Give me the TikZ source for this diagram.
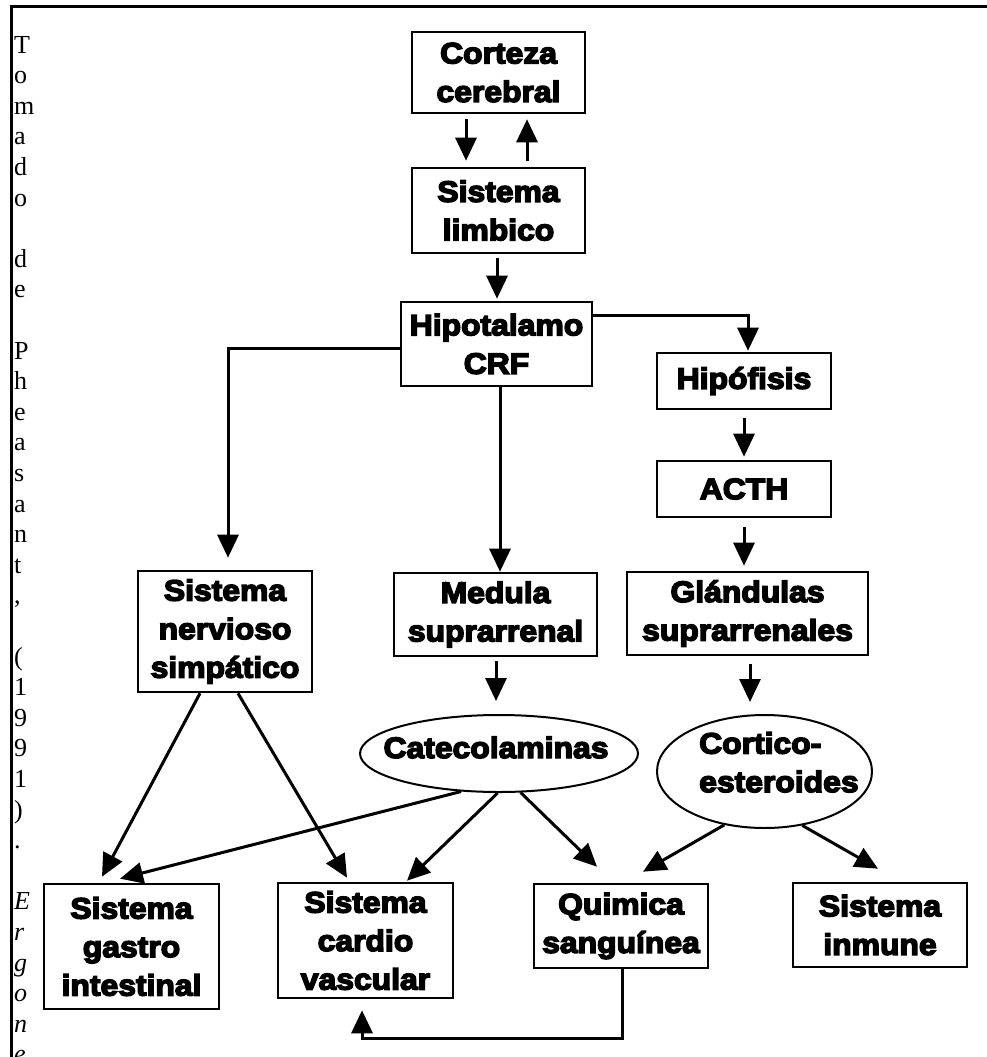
\documentclass[tikz,border=0pt]{standalone}
\usepackage{fontspec}
\setmainfont{Liberation Serif}
\newfontfamily\heavysans{Liberation Sans Bold}[FakeBold=5,FakeStretch=1.08]
\usetikzlibrary{arrows.meta,shapes.geometric}
\newcommand\boxlabelfont{\heavysans\fontsize{29.5}{38.5}\selectfont}
\newcommand\sidefont{\fontsize{26}{30}\selectfont}

\begin{document}
\begin{tikzpicture}[x=1pt,y=-1pt,
  box/.style 2 args={draw,line width=2.6pt,inner sep=0pt,minimum width=#1pt,minimum height=#2pt,align=center,font=\boxlabelfont},
  oval/.style 2 args={draw,ellipse,line width=2pt,inner sep=0pt,minimum width=#1pt,minimum height=#2pt},
  ovaltext/.style={font=\boxlabelfont,inner sep=0pt},
  arr/.style={line width=3pt,-{Triangle[width=21pt,length=23pt]}},
  sourceletter/.style={font=\sidefont,inner sep=0pt,anchor=base west}]

\useasboundingbox (0,0) rectangle (987,1057);

% outer frame (top and left edges)
\draw[line width=3pt] (11.5,1057) -- (11.5,6.5) -- (987,6.5);

% source note, one letter per line
\foreach \i/\ch in {0/T,1/o,2/m,3/a,4/d,5/o,7/d,8/e,10/P,11/h,12/e,13/a,14/s,15/a,16/n,17/t,18/{,},20/{(},21/1,22/9,23/9,24/1,25/{)},26/.}
  \node[sourceletter] (src\i) at (14,{53+30.6*\i}) {\ch};
\foreach \i/\ch in {28/E,29/r,30/g,31/o,32/n,33/e}
  \node[sourceletter,font=\sidefont\itshape] (src\i) at (14,{53+30.6*\i}) {\ch};

% boxes
\node[box={173}{81}]  (corteza)    at (498.5,72.5)  {Corteza\\cerebral};
\node[box={173}{85}]  (limbico)    at (498.5,210.5) {Sistema\\limbico};
\node[box={191}{84}]  (hipotalamo) at (496.5,344)   {Hipotalamo\\CRF};
\node[box={174}{56}]  (hipofisis)  at (744,381)     {Hip\'ofisis};
\node[box={174}{56}]  (acth)       at (744,489)     {ACTH};
\node[box={241}{83}]  (glandulas)  at (747.5,613.5) {Gl\'andulas\\suprarrenales};
\node[box={174}{121}] (nervioso)   at (225,631.5)   {Sistema\\nervioso\\simp\'atico};
\node[box={203}{83}]  (medula)     at (495.5,614.5) {Medula\\suprarrenal};
\node[box={175}{125}] (gastro)     at (131.5,946.5) {Sistema\\gastro\\intestinal};
\node[box={175}{115}] (cardio)     at (365.5,940.5) {Sistema\\cardio\\vascular};
\node[box={174}{84}]  (quimica)    at (621,926)     {Quimica\\sangu\'inea};
\node[box={174}{84}]  (inmune)     at (880,925)     {Sistema\\inmune};

% hormone ellipses
\node[oval={278}{77}]  (catecol) at (499,753.5) {};
\node[ovaltext,anchor=base] (catecoltxt) at (496,758) {Catecolaminas};
\node[oval={215}{113}] (cortico) at (764.5,771.5) {};
\node[ovaltext,align=left,anchor=north west] (corticotxt) at (699,732) {Cortico-\\esteroides};

% connectors
\draw[arr,shorten <=5pt,shorten >=6pt] ([xshift=-32.5pt]corteza.south) -- ([xshift=-32.5pt]limbico.north);
\draw[arr,shorten <=6pt,shorten >=5pt] ([xshift=28.5pt]limbico.north) -- ([xshift=28.5pt]corteza.south);
\draw[arr,shorten <=4pt,shorten >=2pt] ([xshift=-1.5pt]limbico.south) -- ([xshift=0.5pt]hipotalamo.north);
\draw[arr,shorten >=12pt] ([yshift=-4pt]hipotalamo.west) -| ([xshift=3pt]nervioso.north);
\draw[arr] ([xshift=3.5pt]hipotalamo.south) -- ([xshift=4.5pt]medula.north);
\draw[arr,shorten >=1pt] ([yshift=29pt]hipotalamo.east) -| ([xshift=4pt]hipofisis.north);
\draw[arr,shorten <=8pt,shorten >=3pt] (hipofisis.south) -- (acth.north);
\draw[arr,shorten <=9pt,shorten >=5pt] (acth.south) -- ([xshift=-3.5pt]glandulas.north);
\draw[arr,shorten <=8pt,shorten >=12pt] ([xshift=2.5pt]glandulas.south) -- ([xshift=-14.5pt]cortico.north);
\draw[arr,shorten <=4pt,shorten >=13pt] ([xshift=0.5pt]medula.south) -- ([xshift=-3pt]catecol.north);

\draw[arr] ([xshift=-25pt]nervioso.south) -- ([xshift=-29.5pt,yshift=6pt]gastro.north);
\draw[arr] ([xshift=13pt]nervioso.south) -- ([xshift=-18.5pt,yshift=4pt]cardio.north);
\draw[arr] (catecol.225) -- ([xshift=-11.5pt,yshift=4pt]gastro.north);
\draw[arr] (catecol.268) -- ([xshift=41.5pt,yshift=1pt]cardio.north);
\draw[arr] (catecol.299) -- ([xshift=-24pt,yshift=16pt]quimica.north);
\draw[arr] (cortico.233) -- ([xshift=22pt,yshift=11pt]quimica.north);
\draw[arr] (cortico.305) -- ([xshift=-2pt,yshift=13pt]inmune.north);
\draw[arr] ([xshift=1pt]quimica.south) -- ++(0,69) -| ([xshift=-3.5pt,yshift=-11pt]cardio.south);

\end{tikzpicture}
\end{document}
